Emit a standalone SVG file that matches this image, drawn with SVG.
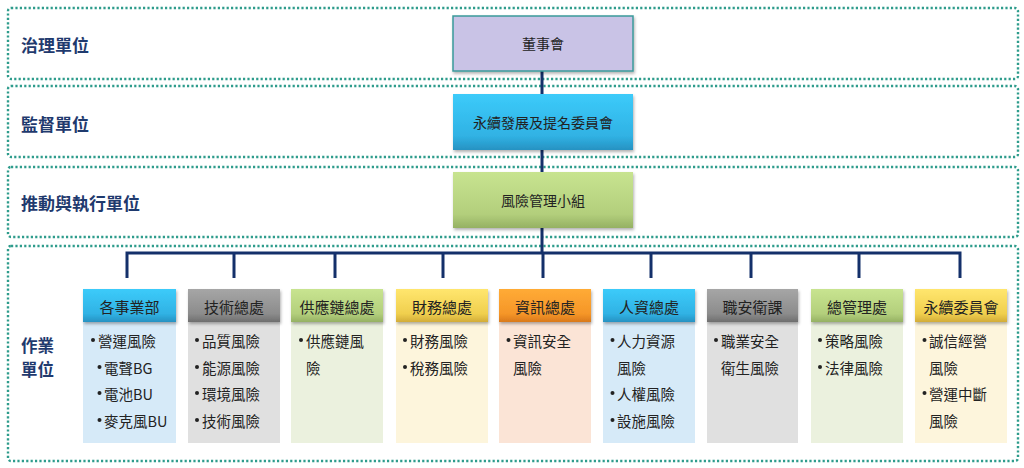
<svg xmlns="http://www.w3.org/2000/svg" width="1024" height="468" viewBox="0 0 1024 468">
<style>
.frame{fill:none;stroke:#2e9c8c;stroke-width:2.4;stroke-dasharray:2.2 2.2}
.lbl{font-family:"Noto Sans CJK TC","Noto Sans CJK SC",sans-serif;font-weight:bold;font-size:17px;fill:#1f3a6e;dominant-baseline:central}
.t{font-family:"Noto Sans CJK TC","Noto Sans CJK SC",sans-serif;font-size:14.5px;fill:#222;dominant-baseline:central}
.h{font-family:"Noto Sans CJK TC","Noto Sans CJK SC",sans-serif;font-size:15px;fill:#222;text-anchor:middle;dominant-baseline:central}
.conn{fill:none;stroke:#14306a;stroke-width:3}
.b{fill:#222}
</style>
<defs>
<filter id="sh" x="-10%" y="-10%" width="130%" height="140%">
<feDropShadow dx="1" dy="2" stdDeviation="1.5" flood-color="#000" flood-opacity="0.3"/>
</filter>
<linearGradient id="gBlue" x1="0" y1="0" x2="0" y2="1"><stop offset="0" stop-color="#3ccbfa"/><stop offset="0.75" stop-color="#30b2e4"/><stop offset="1" stop-color="#2792c2"/></linearGradient>
<linearGradient id="gGray" x1="0" y1="0" x2="0" y2="1"><stop offset="0" stop-color="#a6a6a6"/><stop offset="0.75" stop-color="#8c8c8c"/><stop offset="1" stop-color="#6e6e6e"/></linearGradient>
<linearGradient id="gGreen" x1="0" y1="0" x2="0" y2="1"><stop offset="0" stop-color="#c8e490"/><stop offset="0.75" stop-color="#b3cf7c"/><stop offset="1" stop-color="#95b163"/></linearGradient>
<linearGradient id="gYellow" x1="0" y1="0" x2="0" y2="1"><stop offset="0" stop-color="#ffe66e"/><stop offset="0.75" stop-color="#f0cf4e"/><stop offset="1" stop-color="#d2ac38"/></linearGradient>
<linearGradient id="gOrange" x1="0" y1="0" x2="0" y2="1"><stop offset="0" stop-color="#ffab36"/><stop offset="0.75" stop-color="#f59628"/><stop offset="1" stop-color="#d9791c"/></linearGradient>
</defs>
<rect width="1024" height="468" fill="#fff"/>

<g id="frames">
<rect class="frame" x="8" y="8" width="1010" height="71" rx="3"/>
<rect class="frame" x="8" y="86" width="1010" height="71" rx="3"/>
<rect class="frame" x="8" y="167" width="1010" height="70" rx="3"/>
<rect class="frame" x="8" y="246" width="1010" height="215" rx="3"/>
<text class="lbl" x="21" y="44">治理單位</text>
<text class="lbl" x="21" y="123">監督單位</text>
<text class="lbl" x="21" y="202">推動與執行單位</text>
<text class="lbl" x="21" y="345" style="font-size:16.5px">作業</text>
<text class="lbl" x="21" y="369" style="font-size:16.5px">單位</text>
</g>

<g id="connectors">
<path class="conn" d="M542 71V253M127 278V253H960V278M234 253V278M335 253V278M443 253V278M543 253V278M651 253V278M751 253V278M859 253V278"/>
</g>

<g id="board">
<rect x="453" y="16" width="180" height="55" fill="#c9c3e6" stroke="#3a9a9a" stroke-width="1.5" filter="url(#sh)"/>
<text class="h" x="543" y="43" style="font-size:14px">董事會</text>
</g>
<g id="sustain-committee">
<rect x="453" y="94" width="180" height="56" fill="url(#gBlue)" filter="url(#sh)"/>
<text class="h" x="543" y="122" style="font-size:14px">永續發展及提名委員會</text>
</g>
<g id="risk-team">
<rect x="453" y="172" width="180" height="56" fill="url(#gGreen)" filter="url(#sh)"/>
<text class="h" x="543" y="200" style="font-size:14px">風險管理小組</text>
</g>

<g id="col1">
<rect x="83" y="322" width="93" height="121" fill="#d6eaf8"/>
<rect x="83" y="289" width="93" height="33" fill="url(#gBlue)" filter="url(#sh)"/>
<text class="h" x="129.5" y="306">各事業部</text>
<circle class="b" cx="93" cy="340" r="2"/><text class="t" x="98" y="340">營運風險</text>
<circle class="b" cx="99.5" cy="367" r="2"/><text class="t" x="104" y="367">電聲BG</text>
<circle class="b" cx="99.5" cy="393" r="2"/><text class="t" x="104" y="393">電池BU</text>
<circle class="b" cx="99.5" cy="420" r="2"/><text class="t" x="104" y="420">麥克風BU</text>
</g>
<g id="col2">
<rect x="188" y="322" width="92" height="121" fill="#e0e0e0"/>
<rect x="188" y="289" width="92" height="33" fill="url(#gGray)" filter="url(#sh)"/>
<text class="h" x="234" y="306">技術總處</text>
<circle class="b" cx="197" cy="340" r="2"/><text class="t" x="202" y="340">品質風險</text>
<circle class="b" cx="197" cy="367" r="2"/><text class="t" x="202" y="367">能源風險</text>
<circle class="b" cx="197" cy="393" r="2"/><text class="t" x="202" y="393">環境風險</text>
<circle class="b" cx="197" cy="420" r="2"/><text class="t" x="202" y="420">技術風險</text>
</g>
<g id="col3">
<rect x="291" y="322" width="92" height="121" fill="#ebf1de"/>
<rect x="291" y="289" width="92" height="33" fill="url(#gGreen)" filter="url(#sh)"/>
<text class="h" x="337" y="306">供應鏈總處</text>
<circle class="b" cx="301" cy="340" r="2"/><text class="t" x="306" y="340">供應鏈風</text>
<text class="t" x="306" y="367">險</text>
</g>
<g id="col4">
<rect x="396" y="322" width="92" height="121" fill="#fdf5dc"/>
<rect x="396" y="289" width="92" height="33" fill="url(#gYellow)" filter="url(#sh)"/>
<text class="h" x="442" y="306">財務總處</text>
<circle class="b" cx="405" cy="340" r="2"/><text class="t" x="410" y="340">財務風險</text>
<circle class="b" cx="405" cy="367" r="2"/><text class="t" x="410" y="367">稅務風險</text>
</g>
<g id="col5">
<rect x="499" y="322" width="92" height="121" fill="#fbe4d6"/>
<rect x="499" y="289" width="92" height="33" fill="url(#gOrange)" filter="url(#sh)"/>
<text class="h" x="545" y="306">資訊總處</text>
<circle class="b" cx="508.5" cy="340" r="2"/><text class="t" x="513" y="340">資訊安全</text>
<text class="t" x="513" y="367">風險</text>
</g>
<g id="col6">
<rect x="603" y="322" width="92" height="121" fill="#d6eaf8"/>
<rect x="603" y="289" width="92" height="33" fill="url(#gBlue)" filter="url(#sh)"/>
<text class="h" x="649" y="306">人資總處</text>
<circle class="b" cx="612.5" cy="340" r="2"/><text class="t" x="617" y="340">人力資源</text>
<text class="t" x="617" y="367">風險</text>
<circle class="b" cx="612.5" cy="393" r="2"/><text class="t" x="617" y="393">人權風險</text>
<circle class="b" cx="612.5" cy="420" r="2"/><text class="t" x="617" y="420">設施風險</text>
</g>
<g id="col7">
<rect x="707" y="322" width="91" height="121" fill="#e0e0e0"/>
<rect x="707" y="289" width="91" height="33" fill="url(#gGray)" filter="url(#sh)"/>
<text class="h" x="752.5" y="306">職安衛課</text>
<circle class="b" cx="716" cy="340" r="2"/><text class="t" x="721" y="340">職業安全</text>
<text class="t" x="721" y="367">衛生風險</text>
</g>
<g id="col8">
<rect x="811" y="322" width="92" height="121" fill="#ebf1de"/>
<rect x="811" y="289" width="92" height="33" fill="url(#gGreen)" filter="url(#sh)"/>
<text class="h" x="857" y="306">總管理處</text>
<circle class="b" cx="820" cy="340" r="2"/><text class="t" x="825" y="340">策略風險</text>
<circle class="b" cx="820" cy="367" r="2"/><text class="t" x="825" y="367">法律風險</text>
</g>
<g id="col9">
<rect x="915" y="322" width="92" height="121" fill="#fdf5dc"/>
<rect x="915" y="289" width="92" height="33" fill="url(#gYellow)" filter="url(#sh)"/>
<text class="h" x="961" y="306">永續委員會</text>
<circle class="b" cx="924.5" cy="340" r="2"/><text class="t" x="929" y="340">誠信經營</text>
<text class="t" x="929" y="367">風險</text>
<circle class="b" cx="924.5" cy="393" r="2"/><text class="t" x="929" y="393">營運中斷</text>
<text class="t" x="929" y="420">風險</text>
</g>
</svg>
